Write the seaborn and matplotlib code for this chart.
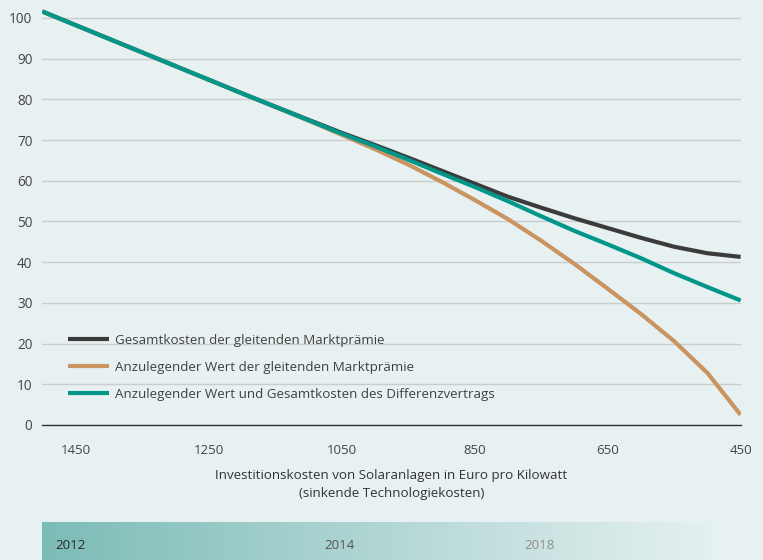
import numpy as np
import pandas as pd
import matplotlib
matplotlib.use("Agg")
import matplotlib.pyplot as plt
from matplotlib.colors import LinearSegmentedColormap
import seaborn as sns

# ---- data ----
kosten = [1500, 1400, 1300, 1200, 1100, 1050, 1000, 950, 900, 850, 800, 750,
          700, 650, 600, 550, 500, 450]
gesamt_mp = [101.6, 94.9, 88.2, 81.5, 75.0, 71.8, 68.8, 65.7, 62.5, 59.3, 56.1, 53.4,
             50.8, 48.4, 46.0, 43.8, 42.2, 41.3]
anzuleg_mp = [101.6, 94.9, 88.2, 81.5, 74.8, 71.3, 67.8, 64.0, 59.8, 55.3, 50.6, 45.3,
              39.6, 33.5, 27.3, 20.6, 12.8, 2.5]
differenz = [101.6, 94.9, 88.2, 81.5, 74.9, 71.6, 68.5, 65.2, 61.8, 58.5, 55.0, 51.3,
             47.7, 44.4, 41.0, 37.3, 33.9, 30.6]
series_names = ["Gesamtkosten der gleitenden Marktprämie",
                "Anzulegender Wert der gleitenden Marktprämie",
                "Anzulegender Wert und Gesamtkosten des Differenzvertrags"]
x_ticks = [1450, 1250, 1050, 850, 650, 450]
y_ticks = [0, 10, 20, 30, 40, 50, 60, 70, 80, 90, 100]
jahre = ["2012", "2014", "2018"]

df = pd.concat([
    pd.DataFrame({"kosten": kosten, "wert": v, "serie": n})
    for v, n in zip([gesamt_mp, anzuleg_mp, differenz], series_names)
])

BG = "#e8f1f1"
palette = {series_names[0]: "#3b3b3c",
           series_names[1]: "#c99460",
           series_names[2]: "#00968a"}

sns.set_theme(style="white")
plt.rcParams["font.family"] = ["Open Sans", "DejaVu Sans"]

fig = plt.figure(figsize=(7.63, 5.60), dpi=100, facecolor=BG)
ax = fig.add_axes([42.3 / 763, 1 - 425 / 560, 698.3 / 763, 423.3 / 560])
ax.set_facecolor(BG)

sns.lineplot(data=df, x="kosten", y="wert", hue="serie", palette=palette,
             hue_order=series_names, linewidth=3.0, ax=ax, legend=True)
for ln in ax.get_lines():
    ln.set_solid_joinstyle("round")
    ln.set_solid_capstyle("butt")

ax.set_xlim(1500, 450)
ax.set_ylim(0, 104)
ax.set_yticks(y_ticks)
ax.set_xticks(x_ticks)
ax.set_xticklabels([str(t) for t in x_ticks])
for sp in ["top", "right", "left"]:
    ax.spines[sp].set_visible(False)
ax.spines["bottom"].set_color("#333333")
ax.spines["bottom"].set_linewidth(1.0)
ax.grid(axis="y", color="#c9cdcd", linewidth=1.0)
ax.grid(axis="x", visible=False)
ax.set_axisbelow(True)
ax.tick_params(axis="x", direction="out", length=9, width=1, color="#333333",
               pad=5, labelsize=9.5, labelcolor="#444444")
ax.tick_params(axis="y", length=0, pad=7, labelsize=9.8, labelcolor="#444444")
ax.set_xlabel("Investitionskosten von Solaranlagen in Euro pro Kilowatt\n(sinkende Technologiekosten)",
              fontsize=9.6, color="#333333", labelpad=8, linespacing=1.55)
ax.set_ylabel("")

leg = ax.legend(loc="upper left", bbox_to_anchor=(0.037, 0.215), frameon=False,
                fontsize=9.6, handlelength=3.1, handletextpad=0.45, labelspacing=1.05,
                borderpad=0, borderaxespad=0)
for t in leg.get_texts():
    t.set_color("#404040")
for l in leg.get_lines():
    l.set_linewidth(3.0)

# gradient time bar
bax = fig.add_axes([42 / 763, 0, 700 / 763, 38 / 560])
cmap = LinearSegmentedColormap.from_list("g", ["#7cbcb7", "#b3d7d5", "#eaf3f3"])
bax.imshow(np.linspace(0, 1, 256)[None, :], aspect="auto", cmap=cmap, extent=[0, 1, 0, 1])
bax.set_xlim(0, 1)
bax.set_ylim(0, 1)
bax.axis("off")
pos = [(55 - 42) / 700, (324 - 42) / 700, (524 - 42) / 700]
cols = ["#2a2a2a", "#555555", "#8e8e8e"]
for j, p, c in zip(jahre, pos, cols):
    bax.text(p, 0.38, j, color=c, fontsize=9.6, va="center", ha="left")

fig.savefig("out.png", dpi=100, facecolor=BG)
